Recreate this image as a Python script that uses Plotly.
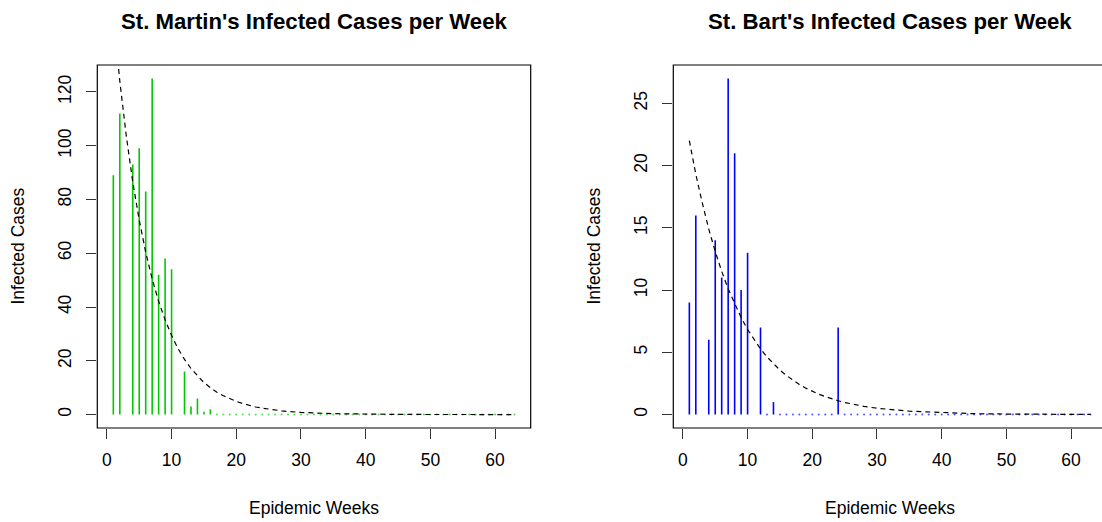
import plotly.graph_objects as go

# ---------------- data ----------------
weeks = list(range(1, 64))

# St. Martin weekly cases (None = no observation drawn)
sm_cases = [89, 112, None, 93, 99, 83, 125, 52, 58, 54, None, 16, 3, 6, 1, 2] + [0] * 47
# St. Bart weekly cases
sb_cases = [9, 16, None, 6, 14, 11, 27, 21, 10, 13, None, 7, 0, 1, 0, 0, 0, 0, 0, 0, 0, 0, 0, 7] + [0] * 39

# dashed fitted curves
curve_weeks = list(range(1, 31)) + [35, 40, 45, 50, 55, 63]
sm_curve = [148.5, 124.0, 103.6, 86.5, 72.3, 60.4, 50.4, 42.1, 35.2, 29.4,
            24.5, 20.5, 17.1, 14.3, 11.9, 10.0, 8.3, 7.0, 5.8, 4.9,
            4.1, 3.4, 2.8, 2.4, 2.0, 1.65, 1.38, 1.15, 0.96, 0.8,
            0.33, 0.13, 0.055, 0.022, 0.009, 0.002]
sb_curve = [22.0, 19.3, 17.0, 14.9, 13.1, 11.5, 10.1, 8.87, 7.79, 6.84,
            6.0, 5.27, 4.63, 4.07, 3.57, 3.14, 2.75, 2.42, 2.12, 1.86,
            1.64, 1.44, 1.26, 1.11, 0.97, 0.85, 0.75, 0.66, 0.58, 0.51,
            0.27, 0.14, 0.07, 0.04, 0.02, 0.01]

x_ticks = [0, 10, 20, 30, 40, 50, 60]
sm_y_ticks = [0, 20, 40, 60, 80, 100, 120]
sb_y_ticks = [0, 5, 10, 15, 20, 25]

titles = ["St. Martin's Infected Cases per Week", "St. Bart's Infected Cases per Week"]
x_label = "Epidemic Weeks"
y_label = "Infected Cases"

# ---------------- layout geometry ----------------
W, H = 1102, 522
L1, R1 = 97.3, 530.7
L2, R2 = 673.3, 1106.7
TOP, BOT = 64.5, 428.3
mt, mb = TOP, H - BOT
ph = H - mt - mb
FONT = "Liberation Sans, Arial, Helvetica, sans-serif"
BASE = 17.5

def px_x(p):
    return p / W

def px_y(p):
    return (BOT - p) / ph

fig = go.Figure()


def add_panel(cases, curve, color, dotcolor, xa, ya):
    xs, ys, zx, zy = [], [], [], []
    for w, v in zip(weeks, cases):
        if v is None:
            continue
        if v == 0:
            zx.append(w)
            zy.append(0)
        else:
            xs += [w, w, None]
            ys += [0, v, None]
    fig.add_trace(go.Scatter(x=xs, y=ys, mode="lines", xaxis=xa, yaxis=ya,
                             line=dict(color=color, width=1.6), hoverinfo="skip",
                             showlegend=False))
    fig.add_trace(go.Scatter(x=zx, y=zy, mode="markers", xaxis=xa, yaxis=ya,
                             marker=dict(color=dotcolor, size=2.0, symbol="circle",
                                         line=dict(width=0)),
                             hoverinfo="skip", showlegend=False))
    fig.add_trace(go.Scatter(x=curve_weeks, y=curve, mode="lines", xaxis=xa, yaxis=ya,
                             line=dict(color="black", width=1.2, dash="5px,4px"),
                             hoverinfo="skip", showlegend=False))


add_panel(sm_cases, sm_curve, "#00C800", "#55DD55", "x", "y")
add_panel(sb_cases, sb_curve, "#0000FF", "#5555FF", "x2", "y2")

ax_common = dict(ticks="outside", ticklen=10, tickwidth=1, tickcolor="#333333",
                 showgrid=False, zeroline=False, showline=False,
                 tickfont=dict(family=FONT, size=BASE, color="black"),
                 fixedrange=True)

xr1 = [-1.48, -1.48 + (R1 - L1) / 6.47]
xr2 = [-1.48, -1.48 + (W - L2) / 6.47]

fig.update_layout(
    width=W, height=H,
    margin=dict(l=0, r=0, t=mt, b=mb, pad=0),
    paper_bgcolor="white", plot_bgcolor="white",
    xaxis=dict(domain=[px_x(L1), px_x(R1)], range=xr1, tickvals=x_ticks,
               anchor="y", ticklabelstandoff=6, **ax_common),
    yaxis=dict(domain=[0, 1], range=[-5, 130], tickvals=sm_y_ticks, anchor="x",
               tickangle=-90, ticklabelstandoff=8, **ax_common),
    xaxis2=dict(domain=[px_x(L2), 1.0], range=xr2, tickvals=x_ticks,
                anchor="y2", ticklabelstandoff=6, **ax_common),
    yaxis2=dict(domain=[0, 1], range=[-1.08, 28.08], tickvals=sb_y_ticks, anchor="x2",
                tickangle=-90, ticklabelstandoff=8, **ax_common),
    showlegend=False,
)

shapes = []
for (l, r) in [(L1, R1), (L2, R2)]:
    shapes.append(dict(type="rect", xref="paper", yref="paper",
                       x0=px_x(l), x1=px_x(r), y0=0, y1=1,
                       line=dict(color="black", width=1.2), fillcolor="rgba(0,0,0,0)",
                       layer="above"))
fig.update_layout(shapes=shapes)

ann = []
for (l, r), t in zip([(L1, R1), (L2, R2)], titles):
    cx = px_x((l + r) / 2)
    ann.append(dict(text="<b>" + t + "</b>", x=cx, y=px_y(21), xref="paper", yref="paper",
                    xanchor="center", yanchor="middle", showarrow=False,
                    font=dict(family=FONT, size=22.2, color="black")))
    ann.append(dict(text=x_label, x=cx, y=px_y(508), xref="paper", yref="paper",
                    xanchor="center", yanchor="middle", showarrow=False,
                    font=dict(family=FONT, size=BASE, color="black")))
for l, yx in [(L1, 17), (L2, 593)]:
    ann.append(dict(text=y_label, x=px_x(yx), y=px_y((TOP + BOT) / 2), xref="paper", yref="paper",
                    xanchor="center", yanchor="middle", showarrow=False, textangle=-90,
                    font=dict(family=FONT, size=BASE, color="black")))
fig.update_layout(annotations=ann)

fig.write_html("out.html", config={"displayModeBar": False})
